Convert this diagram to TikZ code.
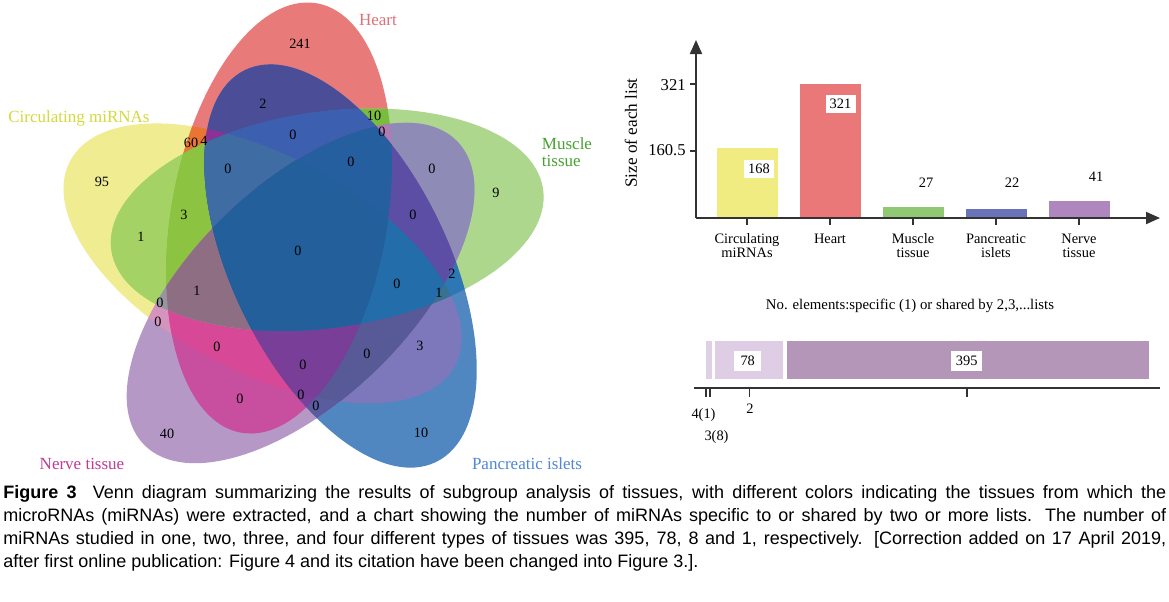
\documentclass[tikz,border=0pt]{standalone}
\usepackage{fontspec}
\setmainfont{Liberation Serif}
\newfontfamily\capfont{Liberation Sans}
\usetikzlibrary{arrows.meta}
% single sets
\definecolor{cY}{RGB}{240,236,145}
\definecolor{cR}{RGB}{232,122,122}
\definecolor{cG}{RGB}{173,215,140}
\definecolor{cB}{RGB}{80,135,192}
\definecolor{cP}{RGB}{182,152,198}
% pairs
\definecolor{cYR}{RGB}{232,118,50}
\definecolor{cYG}{RGB}{165,210,100}
\definecolor{cYB}{RGB}{125,120,188}
\definecolor{cYP}{RGB}{212,148,190}
\definecolor{cRG}{RGB}{120,190,60}
\definecolor{cRB}{RGB}{75,78,150}
\definecolor{cRP}{RGB}{200,78,160}
\definecolor{cGB}{RGB}{45,120,180}
\definecolor{cGP}{RGB}{142,140,182}
\definecolor{cBP}{RGB}{90,92,160}
% triples
\definecolor{cYRG}{RGB}{140,195,65}
\definecolor{cYRB}{RGB}{140,50,150}
\definecolor{cYRP}{RGB}{215,72,150}
\definecolor{cYGB}{RGB}{55,115,145}
\definecolor{cYGP}{RGB}{150,150,160}
\definecolor{cYBP}{RGB}{88,90,152}
\definecolor{cRGB}{RGB}{60,95,175}
\definecolor{cRGP}{RGB}{175,125,178}
\definecolor{cRBP}{RGB}{120,65,155}
\definecolor{cGBP}{RGB}{92,78,165}
% quadruples and all five
\definecolor{cYRGB}{RGB}{62,108,163}
\definecolor{cYRGP}{RGB}{142,110,130}
\definecolor{cYRBP}{RGB}{120,62,152}
\definecolor{cYGBP}{RGB}{35,110,170}
\definecolor{cRGBP}{RGB}{38,95,160}
\definecolor{cALL}{RGB}{35,95,155}
% labels and charts
\definecolor{tY}{RGB}{212,218,60}
\definecolor{tR}{RGB}{222,112,120}
\definecolor{tG}{RGB}{72,160,50}
\definecolor{tB}{RGB}{80,135,210}
\definecolor{tP}{RGB}{190,60,150}
\definecolor{axisgray}{RGB}{51,51,51}
\definecolor{barY}{RGB}{240,236,130}
\definecolor{barR}{RGB}{235,120,120}
\definecolor{barG}{RGB}{145,200,115}
\definecolor{barB}{RGB}{105,115,185}
\definecolor{barP}{RGB}{175,135,190}
\definecolor{shareA}{RGB}{222,208,230}
\definecolor{shareB}{RGB}{222,205,228}
\definecolor{shareC}{RGB}{180,150,185}

\tikzset{
  setR/.style={shift={(279.07,218.01)},rotate=80},
  setG/.style={shift={(327.24,219.69)},rotate=8},
  setB/.style={shift={(340.53,266.02)},rotate=-64},
  setP/.style={shift={(300.57,292.97)},rotate=-136},
  setY/.style={shift={(262.59,263.30)},rotate=-208},
  num/.style={font=\fontsize{7.1}{8}\selectfont, inner sep=0pt},
  setlab/.style={font=\fontsize{8.5}{8.5}\selectfont, inner sep=0pt},
  axisline/.style={draw=axisgray, line width=1pt},
  tickline/.style={draw=axisgray, line width=0.8pt},
  ticklab/.style={font=\fontsize{8.3}{9}\selectfont, inner sep=0pt, anchor=east},
  catlab/.style={font=\fontsize{7.2}{7}\selectfont, align=center, inner sep=0pt, anchor=north},
  vallab/.style={font=\fontsize{7.2}{8}\selectfont, inner sep=0pt},
  valbox/.style={vallab, fill=white, minimum width=15pt, minimum height=9pt},
  smalllab/.style={font=\fontsize{7.2}{8}\selectfont, inner sep=0pt},
  capline/.style={font=\capfont\fontsize{9}{10}\selectfont, inner sep=0pt, anchor=west},
  axisarrow/.style={-{Triangle[length=7pt,width=6pt]}}
}
\newcommand\clipY{\clip[setY] (0,0) ellipse [x radius=109pt, y radius=54pt];}
\newcommand\clipR{\clip[setR] (0,0) ellipse [x radius=109pt, y radius=54pt];}
\newcommand\clipG{\clip[setG] (0,0) ellipse [x radius=109pt, y radius=54pt];}
\newcommand\clipB{\clip[setB] (0,0) ellipse [x radius=109pt, y radius=54pt];}
\newcommand\clipP{\clip[setP] (0,0) ellipse [x radius=109pt, y radius=54pt];}
\newcommand\paint[1]{\fill[#1] (0,0) rectangle (700,500);}

\begin{document}
\begin{tikzpicture}[x=0.5pt,y=-0.5pt]
\useasboundingbox (0,0) rectangle (1169,601);
\fill[white] (0,0) rectangle (1169,601);

% ---------- Venn regions (painted by increasing number of sets) ----------
\begin{scope}\clipY\paint{cY}\end{scope}
\begin{scope}\clipR\paint{cR}\end{scope}
\begin{scope}\clipG\paint{cG}\end{scope}
\begin{scope}\clipB\paint{cB}\end{scope}
\begin{scope}\clipP\paint{cP}\end{scope}
\begin{scope}\clipY\clipR\paint{cYR}\end{scope}
\begin{scope}\clipY\clipG\paint{cYG}\end{scope}
\begin{scope}\clipY\clipB\paint{cYB}\end{scope}
\begin{scope}\clipY\clipP\paint{cYP}\end{scope}
\begin{scope}\clipR\clipG\paint{cRG}\end{scope}
\begin{scope}\clipR\clipB\paint{cRB}\end{scope}
\begin{scope}\clipR\clipP\paint{cRP}\end{scope}
\begin{scope}\clipG\clipB\paint{cGB}\end{scope}
\begin{scope}\clipG\clipP\paint{cGP}\end{scope}
\begin{scope}\clipB\clipP\paint{cBP}\end{scope}
\begin{scope}\clipY\clipR\clipG\paint{cYRG}\end{scope}
\begin{scope}\clipY\clipR\clipB\paint{cYRB}\end{scope}
\begin{scope}\clipY\clipR\clipP\paint{cYRP}\end{scope}
\begin{scope}\clipY\clipG\clipB\paint{cYGB}\end{scope}
\begin{scope}\clipY\clipG\clipP\paint{cYGP}\end{scope}
\begin{scope}\clipY\clipB\clipP\paint{cYBP}\end{scope}
\begin{scope}\clipR\clipG\clipB\paint{cRGB}\end{scope}
\begin{scope}\clipR\clipG\clipP\paint{cRGP}\end{scope}
\begin{scope}\clipR\clipB\clipP\paint{cRBP}\end{scope}
\begin{scope}\clipG\clipB\clipP\paint{cGBP}\end{scope}
\begin{scope}\clipY\clipR\clipG\clipB\paint{cYRGB}\end{scope}
\begin{scope}\clipY\clipR\clipG\clipP\paint{cYRGP}\end{scope}
\begin{scope}\clipY\clipR\clipB\clipP\paint{cYRBP}\end{scope}
\begin{scope}\clipY\clipG\clipB\clipP\paint{cYGBP}\end{scope}
\begin{scope}\clipR\clipG\clipB\clipP\paint{cRGBP}\end{scope}
\begin{scope}\clipY\clipR\clipG\clipB\clipP\paint{cALL}\end{scope}

% ---------- set names ----------
\node[setlab, text=tY] (lY) at (79,118) {Circulating miRNAs};
\node[setlab, text=tR] (lR) at (378,20) {Heart};
\node[setlab, text=tG, align=left, font=\fontsize{8.5}{8.2}\selectfont] (lG) at (567,152) {Muscle\\tissue};
\node[setlab, text=tB] (lB) at (527,464) {Pancreatic islets};
\node[setlab, text=tP] (lP) at (82,464) {Nerve tissue};

% ---------- region counts ----------
\node[num] (v1) at (102,182) {95};
\node[num] (v2) at (300,44) {241};
\node[num] (v3) at (496,193) {9};
\node[num] (v4) at (421,433) {10};
\node[num] (v5) at (167,434) {40};
\node[num] (v6) at (191,143) {60};
\node[num] (v7) at (204,141) {4};
\node[num] (v8) at (263,104) {2};
\node[num] (v9) at (293,135) {0};
\node[num] (v10) at (228,169) {0};
\node[num] (v11) at (184,215) {3};
\node[num] (v12) at (141,237) {1};
\node[num] (v13) at (374,116) {10};
\node[num] (v14) at (382,132) {0};
\node[num] (v15) at (351,162) {0};
\node[num] (v16) at (432,169) {0};
\node[num] (v17) at (413,215) {0};
\node[num] (v18) at (298,251) {0};
\node[num] (v19) at (452,274) {2};
\node[num] (v20) at (439,293) {1};
\node[num] (v21) at (397,284) {0};
\node[num] (v22) at (420,346) {3};
\node[num] (v23) at (367,354) {0};
\node[num] (v24) at (303,365) {0};
\node[num] (v25) at (301,395) {0};
\node[num] (v26) at (316,406) {0};
\node[num] (v27) at (240,399) {0};
\node[num] (v28) at (217,347) {0};
\node[num] (v29) at (197,291) {1};
\node[num] (v30) at (160,303) {0};
\node[num] (v31) at (158,322) {0};

% ---------- bar chart: size of each list ----------
\fill[barY] (716.5,147.9) rectangle (777.5,218);
\fill[barR] (799.5,84) rectangle (860.5,218);
\fill[barG] (882.5,206.7) rectangle (943.5,218);
\fill[barB] (965.5,208.8) rectangle (1026.5,218);
\fill[barP] (1048.5,200.9) rectangle (1109.5,218);
\coordinate (O) at (696,218);
\coordinate (Ytip) at (696,40);
\coordinate (Xtip) at (1160,218);
\draw[axisline, axisarrow] (O) -- (Ytip);
\draw[axisline, axisarrow] (O) -- (Xtip);
\coordinate (yt1a) at (690,84);  \coordinate (yt1b) at (696,84);
\coordinate (yt2a) at (690,151); \coordinate (yt2b) at (696,151);
\draw[tickline] (yt1a) -- (yt1b);
\draw[tickline] (yt2a) -- (yt2b);
\node[ticklab] (t321) at (686,85) {321};
\node[ticklab] (t160) at (686,150) {160.5};
\node[font=\fontsize{8.6}{9}\selectfont, inner sep=0pt, rotate=90] (ylab) at (631,133) {Size of each list};
\foreach \cx/\nm in {747/c1,830/c2,913/c3,996/c4,1079/c5}{
  \coordinate (\nm a) at (\cx,218);
  \coordinate (\nm b) at (\cx,225);
  \draw[tickline] (\nm a) -- (\nm b);
}
\node[catlab] (k1) at (747,233.5) {Circulating\\miRNAs};
\node[catlab] (k2) at (830,233.5) {Heart};
\node[catlab] (k3) at (913,233.5) {Muscle\\tissue};
\node[catlab] (k4) at (996,233.5) {Pancreatic\\islets};
\node[catlab] (k5) at (1079,233.5) {Nerve\\tissue};
\node[valbox] (b168) at (759,169) {168};
\node[valbox] (b321) at (840.5,104) {321};
\node[vallab] (b27) at (926,183) {27};
\node[vallab] (b22) at (1012,183) {22};
\node[vallab] (b41) at (1096,177) {41};

% ---------- bar chart: shared elements ----------
\node[font=\fontsize{7.4}{8}\selectfont, inner sep=0pt] (stitle) at (910,306) {No. elements:specific (1) or shared by 2,3,...lists};
\fill[shareA] (705.7,340.7) rectangle (711.7,379.3);
\fill[shareB] (715,340.7) rectangle (782.7,379.3);
\fill[shareC] (786.7,340.7) rectangle (1149,379.3);
\node[vallab, fill=white, minimum width=13.5pt, minimum height=10pt] (s78) at (747.7,360.7) {78};
\node[vallab, fill=white, minimum width=15.5pt, minimum height=10pt] (s395) at (966.7,360.7) {395};
\coordinate (SA) at (694,388.4);
\coordinate (SB) at (1160,388.4);
\draw[axisline] (SA) -- (SB);
\foreach \tx/\nm in {705.7/d1,709.7/d2,749.3/d3,966.7/d4}{
  \coordinate (\nm a) at (\tx,389);
  \coordinate (\nm b) at (\tx,397);
  \draw[tickline] (\nm a) -- (\nm b);
}
\node[smalllab] (q4) at (703.5,415) {4(1)};
\node[smalllab] (q3) at (716.5,437.5) {3(8)};
\node[smalllab] (q2) at (750,409) {2};

% ---------- caption ----------
\node[capline] (cap1) at (3,494) {\makebox[581.5pt][s]{\textbf{Figure 3}\hspace{0.9em}Venn diagram summarizing the results of subgroup analysis of tissues, with different colors indicating the tissues from which the}};
\node[capline] (cap2) at (3,517) {\makebox[581.5pt][s]{microRNAs (miRNAs) were extracted, and a chart showing the number of miRNAs specific to or shared by two or more lists. The number of}};
\node[capline] (cap3) at (3,540) {\makebox[581.5pt][s]{miRNAs studied in one, two, three, and four different types of tissues was 395, 78, 8 and 1, respectively. [Correction added on 17 April 2019,}};
\node[capline] (cap4) at (3,563) {after first online publication: Figure 4 and its citation have been changed into Figure 3.].};
\end{tikzpicture}
\end{document}
